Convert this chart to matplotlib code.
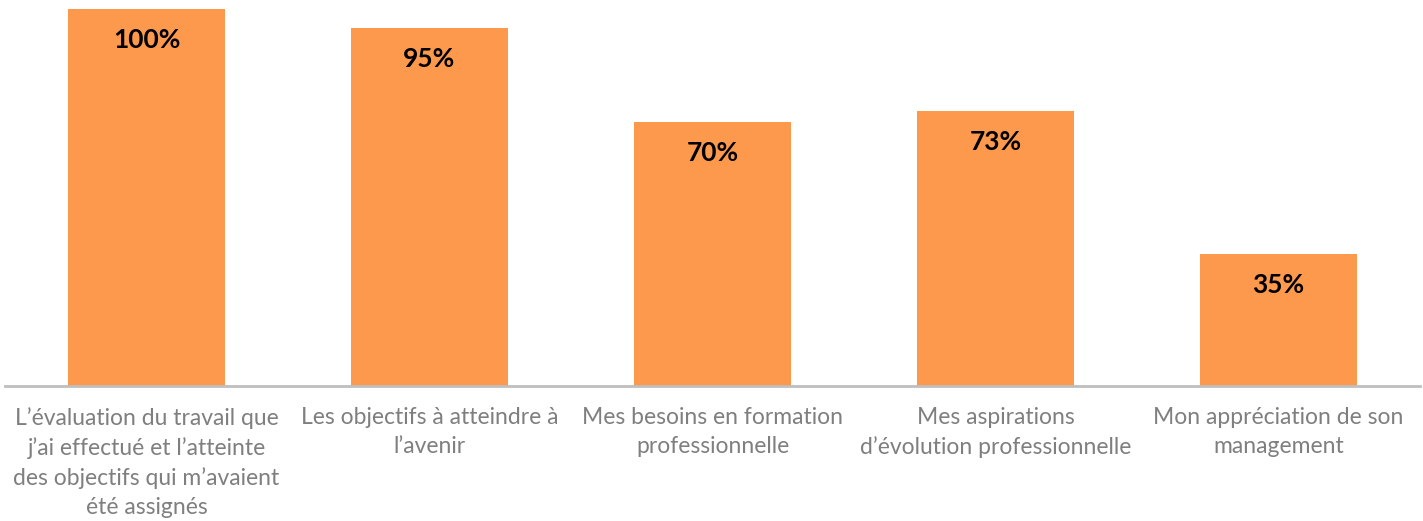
import numpy as np
import matplotlib.pyplot as plt

plt.rcParams['font.family'] = ['Lato', 'DejaVu Sans']

categories = [
    "L’évaluation du travail que\nj’ai effectué et l’atteinte\ndes objectifs qui m’avaient\nété assignés",
    "Les objectifs à atteindre à\nl’avenir",
    "Mes besoins en formation\nprofessionnelle",
    "Mes aspirations\nd’évolution professionnelle",
    "Mon appréciation de son\nmanagement",
]
values = [100, 95, 70, 73, 35]
value_labels = ["100%", "95%", "70%", "73%", "35%"]

fig = plt.figure(figsize=(14.23, 5.21), dpi=100)
ax = fig.add_axes([5 / 1423, 1 - 386 / 521, 1415 / 1423, 377 / 521])

x = np.arange(len(categories))
bars = ax.bar(x, values, width=0.555, color='#FD994D', zorder=2)

for b, lab in zip(bars, value_labels):
    ax.annotate(lab, (b.get_x() + b.get_width() / 2, b.get_height()),
                xytext=(0, -22.5), textcoords='offset points',
                ha='center', va='center', fontsize=19, fontweight='bold',
                color='black')

ax.set_xlim(-0.5, len(categories) - 0.5)
ax.set_ylim(0, 100)
ax.set_xticks(x)
ax.set_xticklabels(categories, fontsize=16.5, color='#7F7F7F', linespacing=1.47)
ax.tick_params(axis='x', length=0, pad=15)
ax.set_yticks([])
for s in ['top', 'left', 'right']:
    ax.spines[s].set_visible(False)
ax.spines['bottom'].set_color('#BFBFBF')
ax.spines['bottom'].set_linewidth(2)
ax.spines['bottom'].set_zorder(3)

fig.savefig('out.png', dpi=100)
